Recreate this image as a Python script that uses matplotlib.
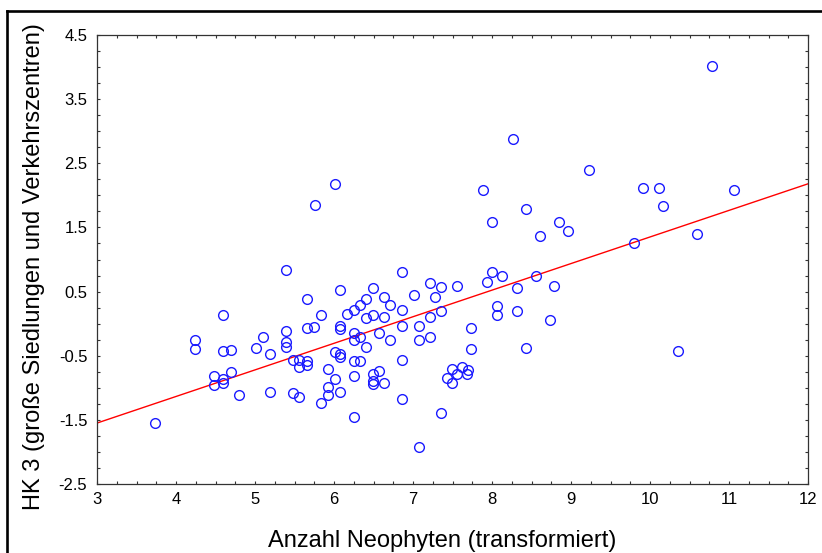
import matplotlib
matplotlib.use("Agg")
import matplotlib.pyplot as plt
from matplotlib.ticker import MultipleLocator, FixedLocator, FixedFormatter
from matplotlib.lines import Line2D

plt.rcParams['font.family'] = ['Liberation Sans', 'DejaVu Sans']

x_vals = [
    3.74, 4.59, 4.24, 4.24, 4.59, 4.69, 5.01, 5.10, 5.19, 4.48, 4.59, 4.69, 4.48, 4.59, 4.80, 5.19,
    5.39, 6.86, 6.08, 6.49, 5.66, 5.83, 6.17, 6.25, 6.33, 6.41, 6.63, 6.71, 6.41, 6.49, 6.63, 6.86,
    7.01, 7.22, 7.35, 7.28, 7.35, 7.22, 5.39, 5.66, 5.75, 6.08, 6.08, 6.25, 6.86, 7.08, 5.39, 5.39,
    6.25, 6.33, 6.57, 6.71, 6.41, 7.08, 7.22, 5.48, 5.56, 5.66, 5.66, 5.56, 6.01, 6.08, 6.08, 6.25,
    6.33, 6.86, 5.92, 6.01, 6.25, 6.49, 6.57, 6.49, 6.49, 6.63, 5.92, 5.92, 5.83, 6.08, 5.48, 5.56,
    6.86, 6.25, 7.35, 7.08,
    8.00, 8.13, 7.94, 8.56, 7.56, 8.32, 8.78, 8.06, 8.06, 8.32, 8.74, 7.74, 7.74, 8.43, 7.49, 7.62,
    7.69, 7.68, 7.56, 7.43, 7.49,
    6.01, 5.76,
    10.79, 8.26, 9.23, 7.89, 9.91, 10.11, 11.06, 10.17, 8.43, 8.00, 8.85, 8.96, 8.61, 10.60, 9.80, 10.36,
]
y_vals = [
    -1.55, 0.13, -0.26, -0.39, -0.42, -0.41, -0.38, -0.21, -0.48, -0.82, -0.86, -0.76, -0.96, -0.92, -1.12, -1.06,
    0.84, 0.81, 0.52, 0.55, 0.39, 0.14, 0.15, 0.21, 0.29, 0.38, 0.41, 0.29, 0.09, 0.14, 0.11, 0.21,
    0.45, 0.63, 0.57, 0.41, 0.19, 0.11, -0.11, -0.07, -0.05, -0.04, -0.09, -0.15, -0.03, -0.03, -0.29, -0.37,
    -0.25, -0.21, -0.15, -0.26, -0.36, -0.26, -0.21, -0.56, -0.56, -0.59, -0.65, -0.67, -0.44, -0.47, -0.52, -0.58,
    -0.58, -0.56, -0.70, -0.86, -0.81, -0.78, -0.74, -0.90, -0.94, -0.92, -0.99, -1.12, -1.23, -1.06, -1.08, -1.14,
    -1.17, -1.45, -1.39, -1.92,
    0.80, 0.75, 0.65, 0.75, 0.59, 0.55, 0.59, 0.27, 0.13, 0.19, 0.05, -0.07, -0.40, -0.38, -0.71, -0.68,
    -0.73, -0.79, -0.79, -0.85, -0.92,
    2.17, 1.85,
    4.01, 2.88, 2.39, 2.09, 2.11, 2.11, 2.09, 1.83, 1.79, 1.58, 1.58, 1.44, 1.36, 1.40, 1.25, -0.42,
]

fit_x = [3.0, 12.0]
fit_y = [-1.55, 2.18]

x_ticks = [3, 4, 5, 6, 7, 8, 9, 10, 11, 12]
x_ticklabels = ["3", "4", "5", "6", "7", "8", "9", "10", "11", "12"]
y_ticks = [-2.5, -1.5, -0.5, 0.5, 1.5, 2.5, 3.5, 4.5]
y_ticklabels = ["-2.5", "-1.5", "-0.5", "0.5", "1.5", "2.5", "3.5", "4.5"]

x_label = "Anzahl Neophyten (transformiert)"
y_label = "HK 3 (große Siedlungen und Verkehrszentren)"

W, H = 822, 553
fig = plt.figure(figsize=(W / 100, H / 100), dpi=100)
ax = fig.add_axes([97 / W, 1 - 484 / H, (808 - 97) / W, (484 - 35) / H])

ax.plot(fit_x, fit_y, color='#ff0000', lw=1.0, zorder=2)
ax.plot(x_vals, y_vals, linestyle='none', marker='o', markersize=7,
        markerfacecolor='none', markeredgecolor='#1a1aff', markeredgewidth=1.0, zorder=3)

ax.set_xlim(3, 12)
ax.set_ylim(-2.5, 4.5)
ax.xaxis.set_major_locator(FixedLocator(x_ticks))
ax.xaxis.set_major_formatter(FixedFormatter(x_ticklabels))
ax.yaxis.set_major_locator(FixedLocator(y_ticks))
ax.yaxis.set_major_formatter(FixedFormatter(y_ticklabels))
ax.xaxis.set_minor_locator(MultipleLocator(0.25))
ax.yaxis.set_minor_locator(MultipleLocator(0.25))

ax.tick_params(which='both', direction='in', top=True, right=True, length=2.5, width=0.8, color='#333333')
ax.tick_params(axis='x', which='major', labelsize=12, pad=6)
ax.tick_params(axis='y', which='major', labelsize=12, pad=7)
for s in ax.spines.values():
    s.set_color('#333333')
    s.set_linewidth(0.9)

fig.text(442 / W, 1 - 547 / H, x_label, fontsize=17, ha='center', va='baseline')
fig.text(34 / W, 1 - 267 / H, y_label, fontsize=17, ha='center', va='center', rotation=90)

# figure frame (left and top edges visible)
fig.add_artist(Line2D([7 / W, 7 / W], [0, 1 - 11 / H], transform=fig.transFigure, color='black', lw=1.9))
fig.add_artist(Line2D([7 / W, 1], [1 - 11 / H, 1 - 11 / H], transform=fig.transFigure, color='black', lw=1.9))

fig.savefig("out.png", dpi=100)
